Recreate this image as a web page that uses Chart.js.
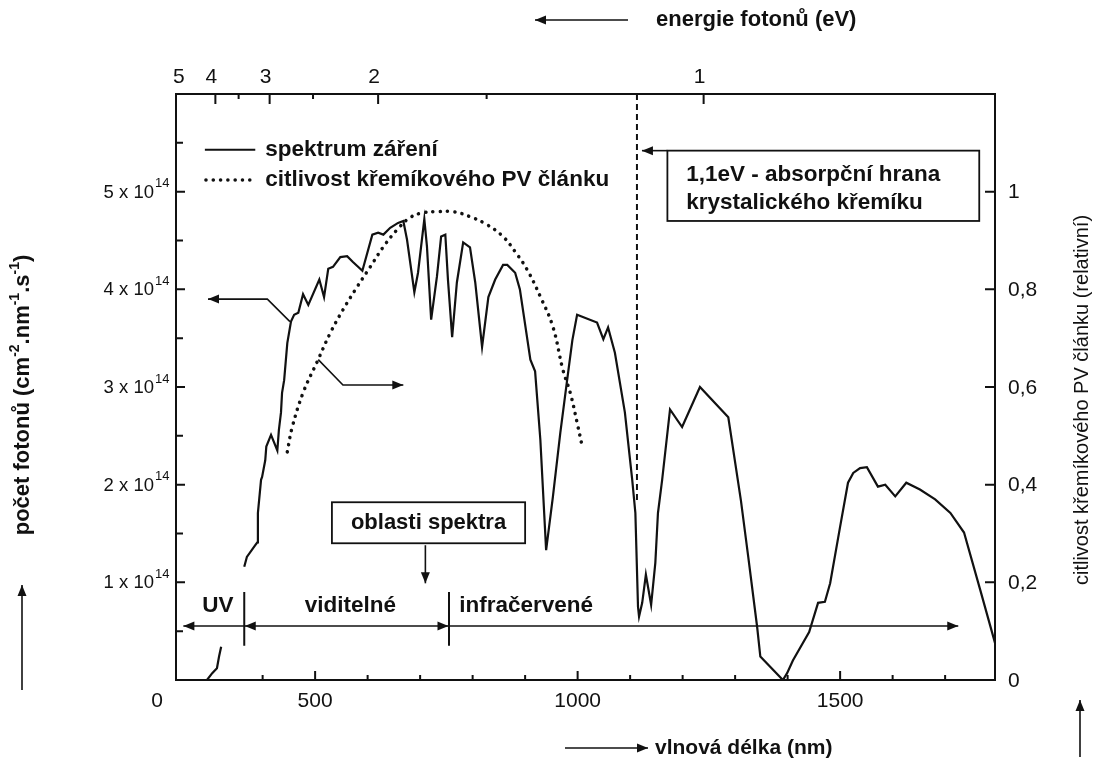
<!DOCTYPE html>
<html>
<head>
<meta charset="utf-8">
<script src="https://cdn.jsdelivr.net/npm/chart.js@4.4.1/dist/chart.umd.min.js"></script>
<style>
  body { margin: 0; background: #fff; }
  canvas { display: block; }
</style>
</head>
<body>
<canvas id="spectrum" width="1098" height="769"></canvas>
<script>
// solar spectrum, photon flux in units of 10^14 cm-2.nm-1.s-1 (null = gap under the UV label)
const wavelengthNm = [
  294, 304, 313, 317, 321, 343,
  365, 370, 386, 390, 391, 397, 399, 405, 407, 416,
  428, 431, 435, 437, 441, 447, 454, 460, 468, 477,
  487, 508, 517, 525, 534, 548, 561, 572, 590, 609,
  620, 630, 643, 658, 668, 675, 689, 696, 708, 713,
  721, 732, 740, 748, 753, 761, 770, 782, 795, 805,
  818, 830, 843, 858, 866, 881, 890, 910, 919, 929,
  940, 953, 967, 980, 990, 999, 1037, 1049, 1058, 1071,
  1090, 1104, 1110, 1115, 1117, 1123, 1130, 1140, 1148, 1153,
  1161, 1176, 1199, 1233, 1287, 1311, 1325, 1342, 1348, 1391,
  1399, 1410, 1441, 1458, 1471, 1481, 1500, 1515, 1525, 1538,
  1551, 1572, 1586, 1605, 1626, 1652, 1681, 1710, 1736, 1767,
  1795
];
const photonFlux = [
  0, 0.07, 0.12, 0.24, 0.34, null,
  1.16, 1.26, 1.38, 1.41, 1.71, 2.05, 2.08, 2.25, 2.39, 2.51,
  2.35, 2.56, 2.74, 2.94, 3.07, 3.45, 3.67, 3.74, 3.76, 3.95,
  3.84, 4.10, 3.92, 4.21, 4.23, 4.33, 4.34, 4.28, 4.19, 4.56,
  4.58, 4.56, 4.63, 4.68, 4.70, 4.51, 3.97, 4.17, 4.72, 4.44,
  3.69, 4.13, 4.54, 4.56, 4.10, 3.51, 4.07, 4.48, 4.43, 4.07,
  3.41, 3.92, 4.10, 4.25, 4.25, 4.17, 4.00, 3.28, 3.16, 2.46,
  1.33, 1.88, 2.53, 3.07, 3.48, 3.74, 3.66, 3.49, 3.61, 3.35,
  2.74, 2.05, 1.71, 0.75, 0.65, 0.79, 1.08, 0.77, 1.20, 1.71,
  2.05, 2.77, 2.59, 3.00, 2.69, 1.84, 1.26, 0.54, 0.24, 0,
  0.07, 0.20, 0.49, 0.79, 0.80, 0.99, 1.57, 2.02, 2.12, 2.17,
  2.18, 1.98, 2.00, 1.88, 2.02, 1.95, 1.85, 1.71, 1.51, 0.92,
  0.38
];

// relative sensitivity of a silicon PV cell
const sensNm = [447, 456, 477, 504, 529, 553, 580, 605, 630, 656, 681, 706, 732,
  763, 795, 828, 858, 881, 904, 929, 953, 972, 986, 999, 1009];
const sensValue = [0.467, 0.516, 0.588, 0.652, 0.711, 0.758, 0.805, 0.846, 0.887, 0.922, 0.947, 0.957, 0.959,
  0.959, 0.949, 0.932, 0.908, 0.877, 0.840, 0.785, 0.723, 0.635, 0.588, 0.527, 0.477];

const nmTicks = [400, 500, 600, 700, 800, 900, 1000, 1100, 1200, 1300, 1400, 1500, 1600, 1700];
const nmLabels = [500, 1000, 1500];
const fluxTicks = [0.5, 1, 1.5, 2, 2.5, 3, 3.5, 4, 4.5, 5, 5.5];
const fluxLabels = [1, 2, 3, 4, 5];
const sensTicks = [0.2, 0.4, 0.6, 0.8, 1];
const sensLabels = ['0', '0,2', '0,4', '0,6', '0,8', '1'];
const eVTicks = [1, 1.5, 2, 2.5, 3, 3.5, 4];
const eVLabels = [1, 2, 3, 4, 5];
const edgeNm = 1113;   // absorption edge of crystalline silicon

const FONT = '"Liberation Sans", Arial, sans-serif';
const INK = '#111';
const BIG = 22.5;

function head(c, x, y, ang) {
  c.save();
  c.translate(x, y);
  c.rotate(ang);
  c.beginPath();
  c.moveTo(0, 0);
  c.lineTo(-11, -4.5);
  c.lineTo(-11, 4.5);
  c.closePath();
  c.fill();
  c.restore();
}

function arrow(c, pts, both) {
  c.beginPath();
  c.moveTo(pts[0][0], pts[0][1]);
  for (let i = 1; i < pts.length; i++) c.lineTo(pts[i][0], pts[i][1]);
  c.stroke();
  let n = pts.length;
  head(c, pts[n - 1][0], pts[n - 1][1], Math.atan2(pts[n - 1][1] - pts[n - 2][1], pts[n - 1][0] - pts[n - 2][0]));
  if (both) head(c, pts[0][0], pts[0][1], Math.atan2(pts[0][1] - pts[1][1], pts[0][0] - pts[1][0]));
}

function text(c, s, x, y, size, bold, align) {
  c.font = (bold ? 'bold ' : '') + size + 'px ' + FONT;
  c.textAlign = align || 'left';
  c.textBaseline = 'middle';
  c.fillText(s, x, y);
}

// text made of pieces, [string, isSuperscript]
function richText(c, parts, x, y, size, bold) {
  let w = 0;
  const fnt = sup => (bold ? 'bold ' : '') + (sup ? Math.round(size * 0.65) : size) + 'px ' + FONT;
  parts.forEach(p => { c.font = fnt(p[1]); w += c.measureText(p[0]).width; });
  let cx = x - w / 2;
  c.textAlign = 'left';
  c.textBaseline = 'middle';
  parts.forEach(p => {
    c.font = fnt(p[1]);
    c.fillText(p[0], cx, p[1] ? y - size * 0.35 : y);
    cx += c.measureText(p[0]).width;
  });
}

const decor = {
  id: 'decor',
  afterDraw(chart) {
    const c = chart.ctx, a = chart.chartArea;
    const sx = chart.scales.x, sy = chart.scales.y, sy2 = chart.scales.y2;
    const X = v => sx.getPixelForValue(v);
    const Y = v => sy.getPixelForValue(v);
    const Y2 = v => sy2.getPixelForValue(v);
    c.save();
    c.strokeStyle = INK;
    c.fillStyle = INK;
    c.lineCap = 'butt';

    // frame
    c.lineWidth = 2;
    c.strokeRect(a.left, a.top, a.right - a.left, a.bottom - a.top);

    // inward tick marks
    c.beginPath();
    nmTicks.forEach(v => {
      const len = v % 500 === 0 ? 9 : 5;
      c.moveTo(X(v), a.bottom); c.lineTo(X(v), a.bottom - len);
    });
    fluxTicks.forEach(v => {
      const len = v % 1 === 0 ? 9 : 7;
      c.moveTo(a.left, Y(v)); c.lineTo(a.left + len, Y(v));
    });
    sensTicks.forEach(v => {
      c.moveTo(a.right, Y2(v)); c.lineTo(a.right - 10, Y2(v));
    });
    eVTicks.forEach(v => {
      const len = v % 1 === 0 ? 10 : 5;
      c.moveTo(X(1240 / v), a.top); c.lineTo(X(1240 / v), a.top + len);
    });
    c.stroke();

    // tick labels
    text(c, '0', a.left - 19, a.bottom + 21, 21, false, 'center');
    nmLabels.forEach(v => text(c, String(v), X(v), a.bottom + 21, 21, false, 'center'));
    fluxLabels.forEach(v => {
      text(c, v + ' x 10', a.left - 22, Y(v) + 1, 18.5, false, 'right');
      text(c, '14', a.left - 21, Y(v) - 8, 13, false, 'left');
    });
    sensLabels.forEach((s, i) => text(c, s, a.right + 13, Y2(i * 0.2) + 1, 21, false, 'left'));
    eVLabels.forEach(v => text(c, String(v), X(1240 / v) - 4, a.top - 17, 21, false, 'center'));

    // axis titles with arrows
    c.lineWidth = 1.6;
    text(c, 'energie fotonů (eV)', 656, 20, 22, true, 'left');
    arrow(c, [[628, 20], [535, 20]]);
    text(c, 'vlnová délka (nm)', 655, 748, 21, true, 'left');
    arrow(c, [[565, 748], [648, 748]]);

    c.save();
    c.translate(23, 395);
    c.rotate(-Math.PI / 2);
    richText(c, [['počet fotonů (cm', false], ['-2', true], ['.nm', false], ['-1', true], ['.s', false], ['-1', true], [')', false]], 0, 0, 22, true);
    c.restore();
    arrow(c, [[22, 690], [22, 585]]);

    c.save();
    c.translate(1082, 400);
    c.rotate(-Math.PI / 2);
    text(c, 'citlivost křemíkového PV článku (relativní)', 0, 0, 20, false, 'center');
    c.restore();
    arrow(c, [[1080, 757], [1080, 700]]);

    // legend
    c.lineWidth = 2;
    c.beginPath(); c.moveTo(X(290), Y(5.43)); c.lineTo(X(386), Y(5.43)); c.stroke();
    c.save();
    c.lineWidth = 3.5; c.lineCap = 'round'; c.setLineDash([0.1, 7.2]);
    c.beginPath(); c.moveTo(X(292), Y(5.12)); c.lineTo(X(386), Y(5.12)); c.stroke();
    c.restore();
    text(c, 'spektrum záření', X(405), Y(5.43), BIG, true);
    text(c, 'citlivost křemíkového PV článku', X(405), Y(5.12), BIG, true);

    // absorption edge
    c.save();
    c.lineWidth = 2; c.setLineDash([6, 4]);
    c.beginPath(); c.moveTo(X(edgeNm), a.top); c.lineTo(X(edgeNm), Y(1.84)); c.stroke();
    c.restore();
    c.lineWidth = 1.8;
    c.strokeRect(X(1171), Y(5.42), X(1765) - X(1171), Y(4.70) - Y(5.42));
    c.lineWidth = 1.6;
    arrow(c, [[X(1171), Y(5.42)], [X(edgeNm) + 5, Y(5.42)]]);
    text(c, '1,1eV - absorpční hrana', X(1207), Y(5.17), BIG, true);
    text(c, 'krystalického křemíku', X(1207), Y(4.89), BIG, true);

    // pointers to the curves
    arrow(c, [[X(452), Y(3.67)], [X(409), Y(3.90)], [X(296), Y(3.90)]]);
    arrow(c, [[X(506), Y(3.28)], [X(553), Y(3.02)], [X(668), Y(3.02)]]);

    // spectral regions
    c.lineWidth = 1.8;
    c.strokeRect(X(532), Y(1.82), X(900) - X(532), Y(1.40) - Y(1.82));
    text(c, 'oblasti spektra', X(716), Y(1.61), 22, true, 'center');
    c.lineWidth = 1.6;
    arrow(c, [[X(710), Y(1.38)], [X(710), Y(0.99)]]);
    const ry = Y(0.553);
    arrow(c, [[X(365), ry], [X(249), ry]]);
    arrow(c, [[X(366), ry], [X(754), ry]], true);
    arrow(c, [[X(755), ry], [X(1725), ry]]);
    c.lineWidth = 2;
    c.beginPath();
    [365, 755].forEach(v => { c.moveTo(X(v), Y(0.90)); c.lineTo(X(v), Y(0.35)); });
    c.stroke();
    text(c, 'UV', X(315), Y(0.76), BIG, true, 'center');
    text(c, 'viditelné', X(567), Y(0.76), BIG, true, 'center');
    text(c, 'infračervené', X(902), Y(0.76), BIG, true, 'center');
    c.restore();
  }
};

const hidden = { grid: { display: false }, border: { display: false }, ticks: { display: false } };

new Chart(document.getElementById('spectrum'), {
  type: 'line',
  data: {
    datasets: [
      {
        label: 'spektrum záření',
        data: wavelengthNm.map((x, i) => ({ x: x, y: photonFlux[i] })),
        yAxisID: 'y',
        borderColor: INK,
        borderWidth: 2.2,
        pointRadius: 0,
        tension: 0,
        spanGaps: false
      },
      {
        label: 'citlivost křemíkového PV článku',
        data: sensNm.map((x, i) => ({ x: x, y: sensValue[i] })),
        yAxisID: 'y2',
        borderColor: INK,
        borderWidth: 3.5,
        borderDash: [0.1, 7.2],
        borderCapStyle: 'round',
        pointRadius: 0,
        tension: 0.4
      }
    ]
  },
  options: {
    responsive: false,
    animation: false,
    devicePixelRatio: 1,
    layout: { padding: { top: 94 } },
    plugins: { legend: { display: false }, tooltip: { enabled: false } },
    scales: {
      x: { type: 'linear', min: 235, max: 1795, ...hidden, afterFit: s => { s.height = 89; } },
      y: { position: 'left', min: 0, max: 6, ...hidden, afterFit: s => { s.width = 176; } },
      y2: { position: 'right', min: 0, max: 1.2, ...hidden, afterFit: s => { s.width = 103; } }
    }
  },
  plugins: [decor]
});
</script>
</body>
</html>
